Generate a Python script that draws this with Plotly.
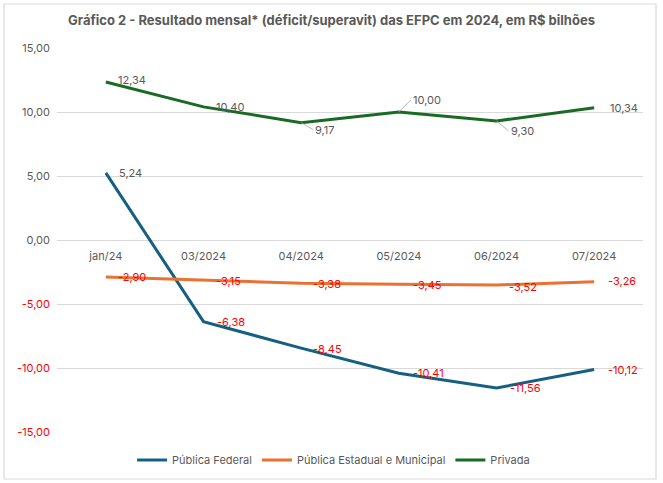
import plotly.graph_objects as go

categories = ["jan/24", "03/2024", "04/2024", "05/2024", "06/2024", "07/2024"]
publica_federal = [5.24, -6.38, -8.45, -10.41, -11.56, -10.12]
publica_estadual = [-2.90, -3.15, -3.38, -3.45, -3.52, -3.26]
privada = [12.34, 10.40, 9.17, 10.00, 9.30, 10.34]
y_ticks = [15, 10, 5, 0, -5, -10, -15]

FONT = "Inter"
GRAY = "#595959"
RED = "#FF0000"

def fmt(v):
    return f"{v:.2f}".replace(".", ",")

fig = go.Figure()
series = [
    ("Pública Federal", publica_federal, "#156082"),
    ("Pública Estadual e Municipal", publica_estadual, "#E97132"),
    ("Privada", privada, "#196B24"),
]
for name, vals, color in series:
    fig.add_trace(go.Scatter(x=categories, y=vals, mode="lines", name=name,
                             line=dict(color=color, width=3)))

annotations = []
priv_off = [(10, 2, False), (10, 0, False), (None, None, True), (None, None, True), (None, None, True), (14, 0, False)]
for i, (c, v) in enumerate(zip(categories, privada)):
    xs, ys, lead = priv_off[i]
    if lead:
        if i == 3:
            ax, ay = 12, -12
        elif i == 2:
            ax, ay = 12, 7
        else:
            ax, ay = 12, 10
        annotations.append(dict(x=c, y=v, xref="x", yref="y", text=fmt(v), showarrow=True,
                                arrowhead=0, arrowwidth=0.8, arrowcolor="#a6a6a6",
                                ax=ax, ay=ay, xanchor="left", yanchor="middle",
                                font=dict(family=FONT, size=11, color=GRAY)))
    else:
        annotations.append(dict(x=c, y=v, xref="x", yref="y", text=fmt(v), showarrow=False,
                                xanchor="left", yanchor="middle", xshift=xs, yshift=ys,
                                font=dict(family=FONT, size=11, color=GRAY)))

fed_off = [(11, 0), (11, 0), (10, -1), (12, 0), (11, 0), (12, 0)]
for i, (c, v) in enumerate(zip(categories, publica_federal)):
    xs, ys = fed_off[i]
    annotations.append(dict(x=c, y=v, xref="x", yref="y", text=fmt(v), showarrow=False,
                            xanchor="left", yanchor="middle", xshift=xs, yshift=ys,
                            font=dict(family=FONT, size=11, color=GRAY if v > 0 else RED)))

est_off = [(10, 0), (10, -1), (10, -1), (12, -1), (10, -2), (12, 1)]
for i, (c, v) in enumerate(zip(categories, publica_estadual)):
    xs, ys = est_off[i]
    annotations.append(dict(x=c, y=v, xref="x", yref="y", text=fmt(v), showarrow=False,
                            xanchor="left", yanchor="middle", xshift=xs, yshift=ys,
                            font=dict(family=FONT, size=11, color=RED)))

ticktext = [fmt(t) if t >= 0 else f"<span style='color:{RED}'>{fmt(t)}</span>" for t in y_ticks]

fig.update_layout(
    width=663, height=483,
    margin=dict(l=57, r=20, t=48, b=51, autoexpand=False),
    paper_bgcolor="white", plot_bgcolor="white",
    font=dict(family=FONT, size=11, color=GRAY),
    title=dict(text="<b>Gráfico 2 - Resultado mensal* (déficit/superavit) das EFPC em 2024, em R$ bilhões</b>",
               x=0.5, xanchor="center", y=0.958, yanchor="middle",
               font=dict(family=FONT, size=13, color=GRAY)),
    showlegend=True,
    legend=dict(orientation="h", x=0.472, xanchor="center", y=-0.073, yanchor="middle",
                font=dict(family=FONT, size=11, color=GRAY), itemwidth=30, tracegroupgap=0),
    annotations=annotations,
    shapes=[dict(type="rect", xref="paper", yref="paper", x0=-0.0904, x1=1.0222,
                 y0=-0.1224, y1=1.1146, line=dict(color="#d9d9d9", width=1.2), layer="below")],
)
fig.update_xaxes(type="category", range=[-0.5, 5.5], anchor="free", position=0.5,
                 showgrid=False, showline=False, ticks="", zeroline=False, automargin=False,
                 ticklabelstandoff=8,
                 tickfont=dict(family=FONT, size=11, color=GRAY))
fig.update_yaxes(range=[-15, 15], tickvals=y_ticks, ticktext=ticktext, showgrid=True,
                 gridcolor="#d9d9d9", gridwidth=1, zeroline=False, showline=False, ticks="",
                 automargin=False,
                 tickfont=dict(family=FONT, size=11, color=GRAY), ticklabelstandoff=6)

fig.write_html("out.html", config={"displayModeBar": False},
               post_script="document.body.style.margin='0';")
